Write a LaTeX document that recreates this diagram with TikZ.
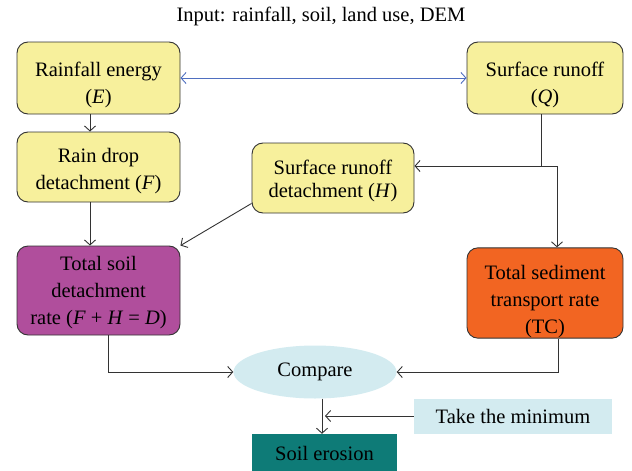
\documentclass[tikz,border=0pt]{standalone}
\usepackage{fontspec}
\setmainfont{Liberation Serif}
\usetikzlibrary{arrows.meta,shapes.geometric}
\definecolor{boxyellow}{HTML}{F7F09C}
\definecolor{boxpurple}{HTML}{B04E9C}
\definecolor{boxorange}{HTML}{F26522}
\definecolor{lightblue}{HTML}{D3EBF0}
\definecolor{teal}{HTML}{0E7B77}
\definecolor{arrowblue}{HTML}{4F6FC0}
\definecolor{edgegray}{HTML}{333333}
\newcommand{\topgap}[1]{\rule{0pt}{#1}}
\tikzset{
  every node/.style={font=\fontsize{20.5}{27}\selectfont, align=center, inner sep=0pt},
  rbox/.style={draw=edgegray, line width=0.9pt, rounded corners=11pt},
  ybox/.style={rbox, fill=boxyellow},
  conn/.style={draw=edgegray, line width=0.9pt, -{Straight Barb[length=5pt,width=11pt]}},
}
\begin{document}
\begin{tikzpicture}[x=1pt,y=-1pt]
\useasboundingbox (0,0) rectangle (632,471);
\node (title) at (321,16) {Input: rainfall, soil, land use, DEM};
\node[ybox, minimum width=163pt, minimum height=72pt] (E) at (98.5,78) {\topgap{28pt}Rainfall energy\\(\textit{E})};
\node[ybox, minimum width=156pt, minimum height=72pt] (Q) at (545,78) {\topgap{28pt}Surface runoff\\(\textit{Q})};
\node[ybox, minimum width=163pt, minimum height=70pt] (F) at (98.5,167) {\topgap{22pt}Rain drop\\detachment (\textit{F})};
\node[ybox, minimum width=162pt, minimum height=70pt, font=\fontsize{20.5}{23.5}\selectfont] (H) at (333,178) {\topgap{20pt}Surface runoff\\detachment (\textit{H})};
\node[rbox, fill=boxpurple, minimum width=163pt, minimum height=89pt] (D) at (98.5,290.5) {\topgap{18pt}Total soil\\detachment\\rate (\textit{F} + \textit{H} = \textit{D})};
\node[rbox, fill=boxorange, minimum width=156pt, minimum height=90pt] (TC) at (545,293) {\topgap{32pt}Total sediment\\transport rate\\(TC)};
\node[ellipse, fill=lightblue, minimum width=163pt, minimum height=53pt] (C) at (315,372) {Compare};
\node[fill=lightblue, minimum width=198pt, minimum height=35pt] (M) at (513,416) {Take the minimum};
\node[fill=teal, minimum width=145pt, minimum height=38pt] (S) at (324.5,453) {Soil erosion};
\draw[draw=arrowblue, line width=0.9pt, {Straight Barb[length=5pt,width=11pt]}-{Straight Barb[length=5pt,width=11pt]}] (E.east) -- (Q.west);
\draw[conn] (E.south -| 90,0) -- (F.north -| 90,0);
\draw[conn] (F.south -| 90,0) -- (D.north -| 90,0);
\draw[conn] (H.south west) ++(0,-10) -- (D.north east);
\coordinate (split) at (541,166);
\draw[conn] (Q.south -| split) -- (split) -- (H.east |- split);
\draw[conn] (split) -- (557,166) -- (TC.north -| 557,0);
\draw[conn] (D.south -| 108,0) |- (C.west);
\draw[conn] (TC.south -| 558,0) |- (C.east);
\draw[conn] (C.south -| 322,0) -- (S.north -| 322,0);
\draw[conn] (M.west) -- (325,416);
\end{tikzpicture}
\end{document}
